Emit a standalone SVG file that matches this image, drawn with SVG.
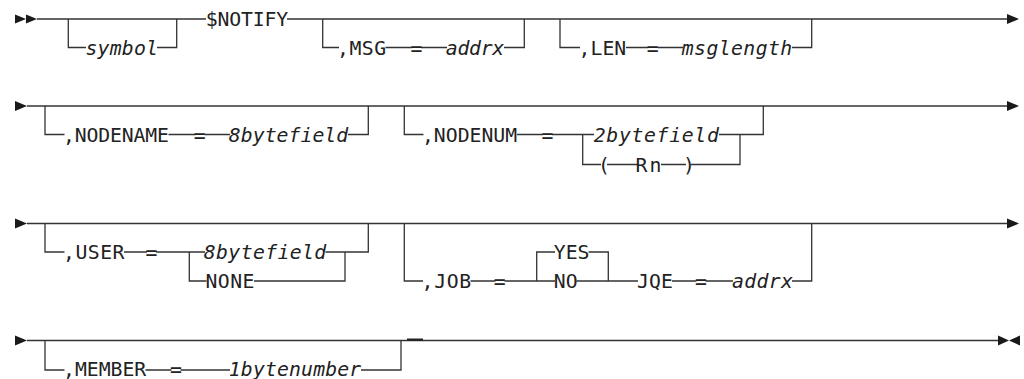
<svg xmlns="http://www.w3.org/2000/svg" width="1024" height="379" viewBox="0 0 1024 379">
<style>
.c{fill:none;stroke:#333;stroke-width:1.3}
.t{font-family:"DejaVu Sans Mono","Liberation Mono",monospace;font-size:19.8px;fill:#222}
.i{font-style:italic}
.m{fill:#1a1a1a;stroke:none}
</style>
<rect width="1024" height="379" fill="#fff"/>
<g id="connectors" class="c">
<!-- row 1 -->
<path d="M37,19 H206 M287,19 H1007"/>
<path d="M68.3,19 V47.5 H86 M157,47.5 H176.7 V19"/>
<path d="M322.7,19 V47.5 H339 M385.5,47.5 H412 M421,47.5 H447 M504,47.5 H524.3 V19"/>
<path d="M560,19 V47.5 H580 M626,47.5 H648.5 M657.5,47.5 H683 M792,47.5 H811.7 V19"/>
<!-- row 2 -->
<path d="M27,106 H1007"/>
<path d="M45,106 V134.5 H64.5 M168.5,134.5 H195.5 M204.5,134.5 H230 M348,134.5 H368.3 V106"/>
<path d="M404.3,106 V134.5 H423.5 M517,134.5 H543 M552,134.5 H594 M582.7,134.5 V164.5 H601 M719,134.5 H763.3 V106 M607,164.5 H637 M661,164.5 H686 M691,164.5 H740 V134.5"/>
<!-- row 3 -->
<path d="M27,223.5 H1007"/>
<path d="M45,223.5 V252 H64.5 M124,252 H147 M156,252 H205 M189.3,252 V281 H206.5 M254,281 H345 V252 M325.5,252 H368.3 V223.5"/>
<path d="M404.3,223.5 V281 H423 M470.5,281 H495.5 M504.5,281 H555 M536.7,281 V252 H555 M588.5,252 H608.3 V281 M576.5,281 H638 M672,281 H696.5 M705.5,281 H733 M792,281 H811.7 V223.5"/>
<!-- row 4 -->
<path d="M27,340.5 H998"/>
<path d="M45,340.5 V370 H64.5 M145.5,370 H171.5 M180.5,370 H230 M361,370 H401 V340.5"/>
<path d="M407,339.6 H423" style="stroke-width:2.2;stroke:#222"/>
</g>
<g id="markers">
<polygon class="m" points="15,14.5 26,19 15,23.5"/>
<polygon class="m" points="26,14.5 37,19 26,23.5"/>
<polygon class="m" points="1007,14 1019,19 1007,24"/>
<polygon class="m" points="15,101 27,106 15,111"/>
<polygon class="m" points="1007,101 1019,106 1007,111"/>
<polygon class="m" points="15,218.5 27,223.5 15,228.5"/>
<polygon class="m" points="1007,218.5 1019,223.5 1007,228.5"/>
<polygon class="m" points="15,335.5 27,340.5 15,345.5"/>
<polygon class="m" points="998,335.5 1009,340.5 998,345.5"/>
<polygon class="m" points="1020,335.5 1009,340.5 1020,345.5"/>
</g>
<g id="node-symbol"><text class="t i" x="85.5" y="54.5" textLength="72.4">symbol</text></g>
<g id="node-notify"><text class="t" x="205.8" y="26" textLength="82.4">$NOTIFY</text></g>
<g id="node-msg">
<text class="t" x="337" y="54.5" textLength="49.2">,MSG</text>
<text class="t" x="410.5" y="54.5">=</text>
<text class="t i" x="445.8" y="54.5" textLength="58.4">addrx</text>
</g>
<g id="node-len">
<text class="t" x="578.6" y="54.5" textLength="47.6">,LEN</text>
<text class="t" x="646.8" y="54.5">=</text>
<text class="t i" x="681.8" y="54.5" textLength="110.4">msglength</text>
</g>
<g id="node-nodename">
<text class="t" x="63" y="141.5" textLength="105.9">,NODENAME</text>
<text class="t" x="193.8" y="141.5">=</text>
<text class="t i" x="228.8" y="141.5" textLength="119.4">8bytefield</text>
</g>
<g id="node-nodenum">
<text class="t" x="421.9" y="141.5" textLength="95.3">,NODENUM</text>
<text class="t" x="541.5" y="141.5">=</text>
<text class="t i" x="593.8" y="141.5" textLength="125">2bytefield</text>
<text class="t" x="598" y="171.5">(</text>
<text class="t" x="635.5" y="171.5" textLength="26">Rn</text>
<text class="t" x="683" y="171.5">)</text>
</g>
<g id="node-user">
<text class="t" x="63" y="259" textLength="61.5">,USER</text>
<text class="t" x="145.5" y="259">=</text>
<text class="t i" x="203.8" y="259" textLength="122.4">8bytefield</text>
<text class="t" x="205.5" y="288" textLength="49">NONE</text>
</g>
<g id="node-job">
<text class="t" x="421.6" y="288" textLength="49.6">,JOB</text>
<text class="t" x="493.8" y="288">=</text>
<text class="t" x="553.8" y="259" textLength="35.7">YES</text>
<text class="t" x="553.8" y="288">NO</text>
<text class="t" x="637.1" y="288" textLength="35.8">JQE</text>
<text class="t" x="695" y="288">=</text>
<text class="t i" x="732.1" y="288" textLength="60.8">addrx</text>
</g>
<g id="node-member">
<text class="t" x="63" y="375.5" textLength="83.2">,MEMBER</text>
<text class="t" x="170" y="375.5">=</text>
<text class="t i" x="228.8" y="375.5" textLength="132.4">1bytenumber</text>
</g>
</svg>
